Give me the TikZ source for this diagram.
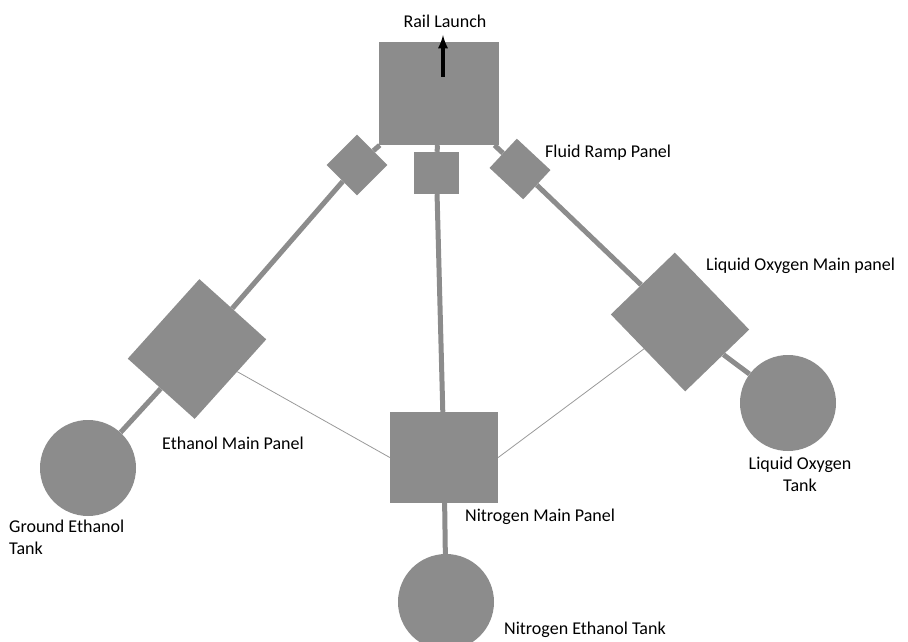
\documentclass[tikz,border=0pt]{standalone}
\usepackage{fontspec}
\setmainfont{Carlito}
\usetikzlibrary{shapes,arrows}

\tikzset{
  panel/.style={fill=black!45, inner sep=0pt},
  tank/.style={circle, fill=black!45, inner sep=0pt, minimum size=96},
  pipe/.style={draw=black!45, line width=5},
  link/.style={draw=black!40, line width=0.8},
  lbl/.style={inner sep=0pt, font=\fontsize{18}{22}\selectfont}
}

\begin{document}
\begin{tikzpicture}[x=1pt,y=-1pt]
  \useasboundingbox (0,0) rectangle (908,642);
  \clip (0,0) rectangle (908,642);
  % panels and tanks
  \node[panel, minimum width=120, minimum height=103] (rail) at (439,93.5) {};
  \node[panel, minimum width=45, minimum height=42] (ramp) at (436.5,173) {};
  \node[panel, minimum size=43, rotate=45] (rampleft) at (357,165) {};
  \node[panel, minimum width=46, minimum height=40, rotate=-43] (rampright) at (520,169) {};
  \node[panel, minimum width=107, minimum height=90, rotate=48] (ethpanel) at (197,349) {};
  \node[panel, minimum width=107, minimum height=89, rotate=-46] (loxpanel) at (680,322) {};
  \node[panel, minimum width=108, minimum height=91] (nitpanel) at (444,457.5) {};
  \node[tank] (ethtank) at (88,468) {};
  \node[tank] (loxtank) at (788,403) {};
  \node[tank] (nittank) at (446,602) {};
  % pipes
  \draw[pipe] (rail) -- (rampleft);
  \draw[pipe] (rampleft) -- (ethpanel);
  \draw[pipe] (ethpanel) -- (ethtank);
  \draw[pipe] (rail) -- (rampright);
  \draw[pipe] (rampright) -- (loxpanel);
  \draw[pipe] (loxpanel) -- (loxtank);
  \draw[pipe] (rail) -- (ramp);
  \draw[pipe] (ramp) -- (nitpanel);
  \draw[pipe] (nitpanel) -- (nittank);
  \draw[link] (ethpanel) -- (nitpanel.west);
  \draw[link] (nitpanel.east) -- (loxpanel);
  % launch arrow
  \coordinate (arrowbase) at (443,77);
  \coordinate (arrowtip) at (443,35);
  \draw[-latex, line width=3.5] (arrowbase) -- (arrowtip);
  % labels
  \node[lbl] (raillbl) at (445,21) {Rail Launch};
  \node[lbl, anchor=west] (ramplbl) at (545,153) {Fluid Ramp Panel};
  \node[lbl, anchor=west] (loxpanellbl) at (706,266) {Liquid Oxygen Main panel};
  \node[lbl, anchor=west] (ethpanellbl) at (162,443) {Ethanol Main Panel};
  \node[lbl, anchor=west] (nitpanellbl) at (465,517) {Nitrogen Main Panel};
  \node[lbl, anchor=west] (nittanklbl) at (504,630) {Nitrogen Ethanol Tank};
  \node[lbl, align=center] (loxtanklbl) at (800,474) {Liquid Oxygen\\Tank};
  \node[lbl, align=left, anchor=west] (ethtanklbl) at (9,537) {Ground Ethanol\\Tank};
\end{tikzpicture}
\end{document}
